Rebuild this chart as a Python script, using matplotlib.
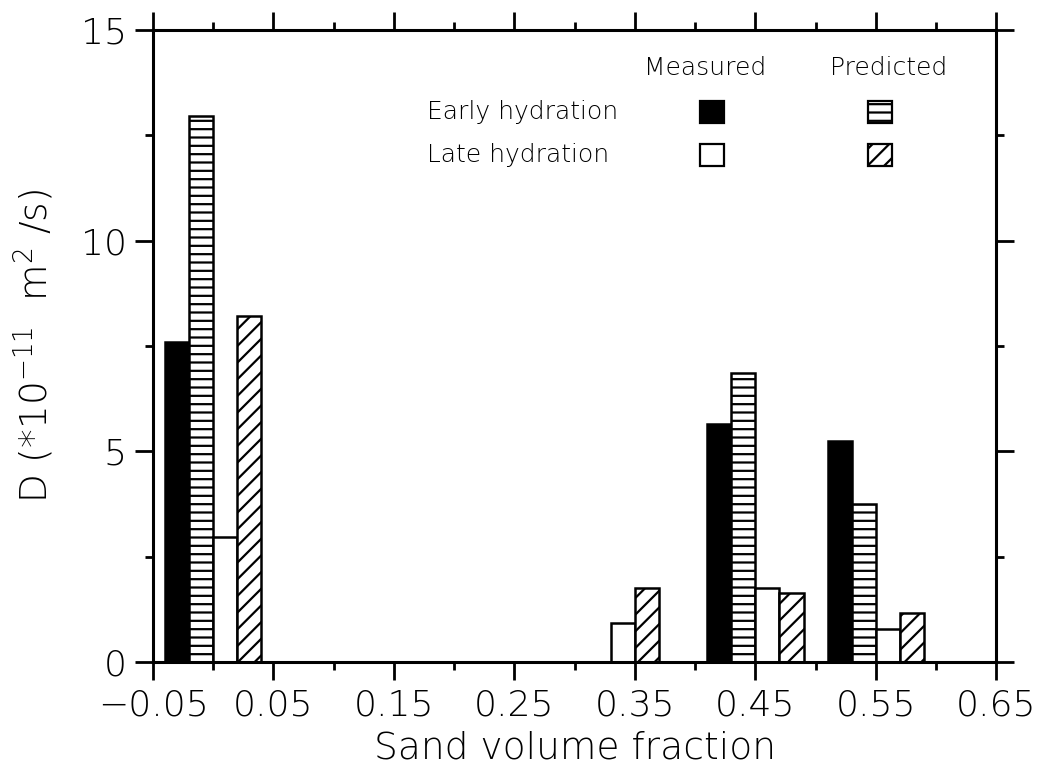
import numpy as np
import matplotlib
matplotlib.use('Agg')
import matplotlib.pyplot as plt
from matplotlib.patches import Rectangle
from matplotlib.ticker import FixedLocator

# sand volume fraction groups and D values (*1e-11 m^2/s)
sand = np.array([0.0, 0.33, 0.45, 0.55])
early_meas = [7.6, 0.0, 5.65, 5.25]
early_pred = [12.95, 0.0, 6.85, 3.75]
late_meas = [2.97, 0.93, 1.76, 0.78]
late_pred = [8.2, 1.76, 1.64, 1.16]

xticks = [-0.05, 0.05, 0.15, 0.25, 0.35, 0.45, 0.55, 0.65]
xminor = [0.0, 0.1, 0.2, 0.3, 0.4, 0.5, 0.6]
yticks = [0, 5, 10, 15]
yminor = [2.5, 7.5, 12.5]

plt.rcParams['hatch.linewidth'] = 1.6
plt.rcParams['font.family'] = 'DejaVu Sans'
plt.rcParams['font.weight'] = 'light'
plt.rcParams['axes.labelweight'] = 'light'
plt.rcParams['mathtext.default'] = 'regular'

fig = plt.figure(figsize=(10.41, 7.71), dpi=100)
ax = fig.add_axes([0.147, 0.1414, 0.81, 0.82])

W = 0.02
LW = 1.8
ax.bar(sand - 0.03, early_meas, W, color='black', edgecolor='black', linewidth=LW)
ax.bar(sand - 0.01, early_pred, W, color='white', edgecolor='black', linewidth=LW, hatch='--')
ax.bar(sand + 0.01, late_meas, W, color='white', edgecolor='black', linewidth=LW)
ax.bar(sand + 0.03, late_pred, W, color='white', edgecolor='black', linewidth=LW, hatch='//')

ax.set_xlim(-0.05, 0.65)
ax.set_ylim(0, 15)
ax.xaxis.set_major_locator(FixedLocator(xticks))
ax.xaxis.set_minor_locator(FixedLocator(xminor))
ax.yaxis.set_major_locator(FixedLocator(yticks))
ax.yaxis.set_minor_locator(FixedLocator(yminor))
ax.set_xticklabels(['\u22120.05'] + ['%.2f' % t for t in xticks[1:]])

for s in ax.spines.values():
    s.set_linewidth(2.2)
ax.tick_params(which='both', direction='out', top=True, right=True, width=2)
ax.tick_params(which='major', length=13, labelsize=26, pad=6)
ax.tick_params(which='minor', length=6)

ax.set_xlabel('Sand volume fraction', fontsize=27, labelpad=6)
ax.set_ylabel('D (*10$^{-11}$  m$^{2}$ /s)', fontsize=27, labelpad=18)

# legend laid out as a small table
fs = 18
ax.text(0.655, 0.94, 'Measured', transform=ax.transAxes, ha='center', va='center', fontsize=fs)
ax.text(0.872, 0.94, 'Predicted', transform=ax.transAxes, ha='center', va='center', fontsize=fs)
ax.text(0.325, 0.870, 'Early hydration', transform=ax.transAxes, ha='left', va='center', fontsize=fs)
ax.text(0.325, 0.802, 'Late hydration', transform=ax.transAxes, ha='left', va='center', fontsize=fs)
bw, bh = 0.029, 0.034
for cx, cy, fc, h in [(0.663, 0.870, 'black', None), (0.862, 0.870, 'white', '--'),
                      (0.663, 0.802, 'white', None), (0.862, 0.802, 'white', '//')]:
    ax.add_patch(Rectangle((cx - bw / 2, cy - bh / 2), bw, bh, transform=ax.transAxes,
                           facecolor=fc, edgecolor='black', linewidth=1.6, hatch=h))

fig.savefig('out.png', dpi=100)
